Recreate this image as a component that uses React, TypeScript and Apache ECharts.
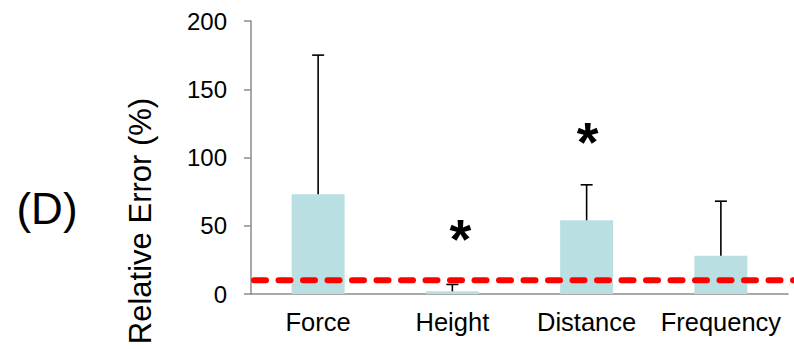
import React, { useEffect, useRef } from 'react';
import * as echarts from 'echarts';

// ---- data ----
const categories = ['Force', 'Height', 'Distance', 'Frequency'];
const meanError = [73, 2, 54, 28];
const errorPlus = [102, 5, 26, 40];
const asteriskY: (number | null)[] = [null, 48, 119, null];
const threshold = 10;
const yMin = 0;
const yMax = 200;
const yInterval = 50;
const panelLabel = '(D)';
const yTitle = 'Relative Error (%)';

// ---- style / layout ----
const W = 794;
const H = 349;
const GRID_LEFT = 251;
const GRID_RIGHT = 6;
const GRID_TOP = 21;
const GRID_BOTTOM = 55;
const FONT = '"Liberation Sans", Arial, Helvetica, sans-serif';
const ASTERISK_NUDGE = [0, 8, 1, 0];

export default function App() {
  const ref = useRef<HTMLDivElement>(null);

  useEffect(() => {
    if (!ref.current) return;
    const chart = echarts.init(ref.current, undefined, { renderer: 'svg' });

    const errData = categories.map((_, i) => [i, meanError[i], errorPlus[i]]);
    const starData: number[][] = [];
    asteriskY.forEach((v, i) => {
      if (v != null) starData.push([i, v]);
    });

    chart.setOption({
      animation: false,
      backgroundColor: '#ffffff',
      grid: { left: GRID_LEFT, right: GRID_RIGHT, top: GRID_TOP, bottom: GRID_BOTTOM },
      xAxis: {
        type: 'category',
        data: categories,
        axisLine: { show: true, lineStyle: { color: '#8c8c8c', width: 1.5 } },
        axisTick: { show: false },
        axisLabel: { color: '#000', fontSize: 25.5, fontFamily: FONT, margin: 15, interval: 0 },
        splitLine: { show: false },
      },
      yAxis: {
        type: 'value',
        min: yMin,
        max: yMax,
        interval: yInterval,
        axisLine: { show: true, lineStyle: { color: '#8c8c8c', width: 1.5 } },
        axisTick: { show: true, inside: false, length: 7, lineStyle: { color: '#8c8c8c', width: 1.5 } },
        axisLabel: { color: '#000', fontSize: 24, fontFamily: FONT, margin: 24 },
        splitLine: { show: false },
      },
      series: [
        {
          type: 'bar',
          data: meanError,
          barWidth: 53,
          itemStyle: { color: '#b9dfe2' },
          z: 2,
        },
        {
          type: 'custom',
          data: errData,
          encode: { x: 0, y: 1 },
          z: 3,
          renderItem: (_params: any, api: any) => {
            const i = api.value(0);
            const v = api.value(1);
            const e = api.value(2);
            const base = api.coord([i, v]);
            const top = api.coord([i, v + e]);
            const half = 6;
            return {
              type: 'group',
              children: [
                {
                  type: 'line',
                  shape: { x1: base[0], y1: base[1], x2: top[0], y2: top[1] },
                  style: { stroke: '#000', lineWidth: 1.6 },
                },
                {
                  type: 'line',
                  shape: { x1: top[0] - half, y1: top[1], x2: top[0] + half, y2: top[1] },
                  style: { stroke: '#000', lineWidth: 1.6 },
                },
              ],
            };
          },
        },
        {
          type: 'custom',
          data: starData,
          encode: { x: 0, y: 1 },
          z: 4,
          renderItem: (_params: any, api: any) => {
            const i = api.value(0);
            const v = api.value(1);
            const p = api.coord([i, v]);
            return {
              type: 'text',
              x: p[0] + (ASTERISK_NUDGE[i] || 0),
              y: p[1] + 10,
              style: {
                text: '*',
                font: `bold 56px ${FONT}`,
                fill: '#000',
                align: 'center',
                verticalAlign: 'middle',
              },
            };
          },
        },
      ],
    });

    const yPix = chart.convertToPixel({ yAxisIndex: 0 }, threshold) as number;

    chart.setOption({
      graphic: [
        {
          type: 'line',
          z: 100,
          shape: { x1: GRID_LEFT + 3, y1: yPix, x2: W, y2: yPix },
          style: { stroke: '#ff0000', lineWidth: 6, lineDash: [12, 12.5], lineCap: 'round' },
        },
        {
          type: 'text',
          x: 140,
          y: 221,
          rotation: Math.PI / 2,
          style: {
            text: yTitle,
            font: `31px ${FONT}`,
            fill: '#000',
            align: 'center',
            verticalAlign: 'middle',
          },
        },
        {
          type: 'text',
          x: 47,
          y: 208,
          style: {
            text: panelLabel,
            font: `44px ${FONT}`,
            fill: '#000',
            align: 'center',
            verticalAlign: 'middle',
          },
        },
      ],
    });

    return () => chart.dispose();
  }, []);

  return (
    <div
      ref={ref}
      style={{ position: 'fixed', left: 0, top: 0, width: W, height: H, background: '#fff' }}
    />
  );
}
